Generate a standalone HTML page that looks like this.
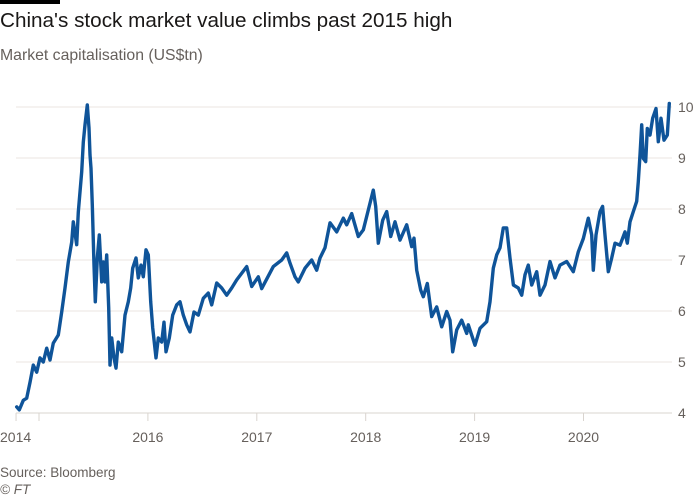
<!DOCTYPE html>
<html><head><meta charset="utf-8"><style>
body{margin:0;background:#fff;font-family:"Liberation Sans",sans-serif;}
#wrap{position:relative;width:700px;height:500px;overflow:hidden;}
.t{position:absolute;white-space:nowrap;}
</style></head><body>
<div id="wrap">
<div style="position:absolute;left:0;top:0;width:60px;height:4px;background:#000"></div>
<div class="t" style="left:0;top:9px;font-size:20.7px;color:#1a1817">China's stock market value climbs past 2015 high</div>
<div class="t" style="left:0;top:47px;font-size:15.8px;color:#66605c">Market capitalisation (US$tn)</div>
<svg id="chart" width="700" height="500" style="position:absolute;left:0;top:0"></svg>
<div class="t" style="left:0;top:465px;font-size:13.5px;color:#66605c">Source: Bloomberg</div>
<div class="t" style="left:0;top:482px;font-size:13.5px;color:#66605c;font-style:italic">© FT</div>
</div>
<script>
// months since Jan 2015
const months=[-2.46,-2.17,-1.73,-1.36,-0.99,-0.63,-0.25,0.11,0.47,0.85,1.21,1.58,2.13,2.50,2.87,3.23,3.60,3.78,4.15,4.33,4.71,4.88,5.07,5.32,5.51,5.62,5.73,5.87,6.06,6.20,6.42,6.64,6.91,7.09,7.27,7.46,7.68,7.82,8.01,8.26,8.48,8.74,9.11,9.48,9.84,10.10,10.33,10.69,10.94,11.24,11.49,11.79,12.04,12.31,12.53,12.89,13.15,13.52,13.77,13.99,14.36,14.73,15.17,15.54,15.90,16.28,16.64,17.08,17.55,18.10,18.66,19.03,19.58,20.13,20.68,21.23,21.79,22.89,23.44,24.17,24.54,25.82,26.74,27.30,27.66,28.21,28.57,29.31,30.05,30.60,30.96,31.51,32.07,32.80,33.53,33.91,34.46,35.18,35.74,36.29,36.84,37.10,37.39,37.87,38.31,38.75,39.23,39.78,40.52,41.07,41.32,41.62,42.06,42.35,42.79,43.27,43.82,44.37,44.93,45.29,45.59,46.03,46.58,47.13,47.31,48.04,48.60,49.33,49.70,50.06,50.44,50.80,51.16,51.54,51.90,52.27,52.82,53.19,53.55,53.92,54.29,54.84,55.21,55.76,56.31,56.86,57.41,58.15,58.88,59.43,59.98,60.53,60.90,61.08,61.38,61.82,62.11,62.37,62.73,63.11,63.47,64.02,64.57,64.83,65.12,65.49,65.86,66.04,66.23,66.41,66.59,66.85,67.03,67.33,67.63,67.99,68.24,68.54,68.87,69.23,69.45];
const values=[4.12,4.06,4.25,4.29,4.6,4.94,4.8,5.08,5.0,5.27,5.04,5.37,5.53,5.98,6.45,6.96,7.35,7.75,7.3,7.94,8.73,9.31,9.65,10.04,9.59,9.06,8.8,8.08,6.9,6.18,7.04,7.49,6.57,6.96,6.57,7.1,6.06,4.94,5.47,5.08,4.88,5.39,5.2,5.92,6.18,6.45,6.84,7.04,6.65,6.9,6.67,7.2,7.1,6.18,5.67,5.08,5.47,5.39,5.78,5.2,5.47,5.92,6.12,6.18,5.92,5.73,5.59,5.98,5.92,6.25,6.35,6.12,6.55,6.45,6.31,6.45,6.61,6.87,6.48,6.67,6.44,6.87,7.0,7.14,6.94,6.67,6.57,6.84,7.0,6.8,7.04,7.24,7.73,7.55,7.82,7.69,7.91,7.46,7.59,7.98,8.37,8.05,7.33,7.78,7.95,7.46,7.75,7.39,7.69,7.26,7.43,6.8,6.41,6.28,6.54,5.89,6.08,5.69,5.99,5.82,5.2,5.63,5.82,5.56,5.73,5.33,5.66,5.79,6.18,6.84,7.1,7.24,7.63,7.63,7.04,6.51,6.45,6.31,6.71,6.9,6.51,6.77,6.31,6.51,6.97,6.65,6.9,6.97,6.77,7.16,7.42,7.82,7.49,6.8,7.49,7.95,8.05,7.49,6.77,7.04,7.33,7.29,7.55,7.33,7.75,7.95,8.15,8.54,9.06,9.65,8.99,8.93,9.58,9.45,9.78,9.97,9.32,9.78,9.35,9.45,10.07];
const yTicks=[4,5,6,7,8,9,10];
const xTickMonths=[-2.53,0,12,24,36,48,60];
const xTickLabels=["2014","","2016","2017","2018","2019","2020"];
const NS="http://www.w3.org/2000/svg";
const svg=document.getElementById('chart');
const x=m=>39+m*9.075;
const y=v=>107+(10-v)*51;
function mk(tag,attrs){const e=document.createElementNS(NS,tag);for(const k in attrs)e.setAttribute(k,attrs[k]);svg.appendChild(e);return e;}
yTicks.forEach(v=>{
  const g=mk('line',{x1:16,x2:672,y1:y(v),y2:y(v),stroke:v===4?'#d9d4cf':'#ebe6e1','stroke-width':1});
  
  
  const t=mk('text',{x:678,y:y(v)+5,'font-size':14,fill:'#66605c'});
  t.textContent=v;
  
  
});
xTickMonths.forEach((m,i)=>{
  const tk=mk('line',{x1:x(m),x2:x(m),y1:413,y2:421,stroke:'#d9d4cf','stroke-width':1});
  
  
  if(xTickLabels[i]){
    const t=mk('text',{x:i===0?0:x(m),y:442,'font-size':14,fill:'#66605c','text-anchor':i===0?'start':'middle'});
    t.textContent=xTickLabels[i];
    
    
  }
});
const d=months.map((m,i)=>(i?'L':'M')+x(m).toFixed(1)+','+y(values[i]).toFixed(1)).join('');
const p=mk('path',{d:d,fill:'none',stroke:'#0f5499','stroke-width':3.4,'stroke-linejoin':'round','stroke-linecap':'round'});


</script>
</body></html>
